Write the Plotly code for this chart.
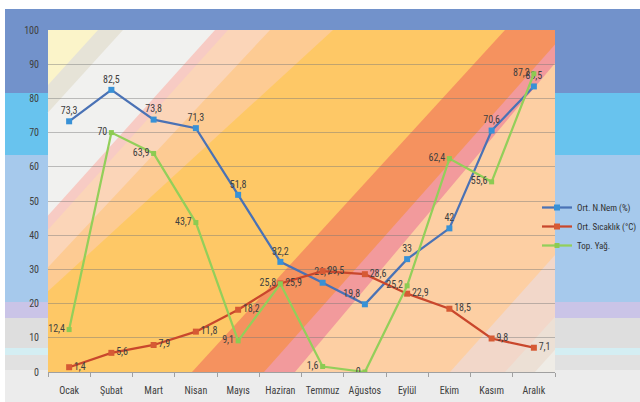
import plotly.graph_objects as go

# ---------------- data ----------------
months = ["Ocak", "Şubat", "Mart", "Nisan", "Mayıs", "Haziran", "Temmuz",
          "Ağustos", "Eylül", "Ekim", "Kasım", "Aralık"]
nem = [73.3, 82.5, 73.8, 71.3, 51.8, 32.2, 26.1, 19.8, 33, 42, 70.6, 83.5]
sicaklik = [1.4, 5.6, 7.9, 11.8, 18.2, 25.9, 29.5, 28.6, 22.9, 18.5, 9.8, 7.1]
yag = [12.4, 70, 63.9, 43.7, 9.1, 25.8, 1.6, 0, 25.2, 62.4, 55.6, 87.2]
series_names = ["Ort. N.Nem (%)", "Ort. Sıcaklık (°C)", "Top. Yağ."]
y_ticks = [0, 10, 20, 30, 40, 50, 60, 70, 80, 90, 100]

# ---------------- geometry (pixels) ----------------
W, H = 640, 402
PL, PR, PT, PB = 48, 555, 30, 372
FONT = "Liberation Sans Narrow, Roboto Condensed, Arial Narrow, Liberation Sans, sans-serif"


def px(x):
    return (x - PL) / (PR - PL)


def py(y):
    return (PB - y) / (PB - PT)


def fmt(v):
    return f"{v:g}".replace(".", ",")


def clip_right(poly, xt, xb):
    """Keep part of polygon right of line through (xt,PT)-(xb,PB)."""
    def f(p):
        x, y = p
        return x - (xt + (xb - xt) * (y - PT) / (PB - PT))
    out = []
    n = len(poly)
    for i in range(n):
        a, b = poly[i], poly[(i + 1) % n]
        fa, fb = f(a), f(b)
        if fa >= 0:
            out.append(a)
        if (fa >= 0) != (fb >= 0):
            t = fa / (fa - fb)
            out.append((a[0] + t * (b[0] - a[0]), a[1] + t * (b[1] - a[1])))
    return out


def path_of(poly):
    pts = [f"{px(x):.5f},{py(y):.5f}" for x, y in poly]
    return "M" + " L".join(pts) + " Z"


shapes = []

# outer horizontal bands
bands = [
    (9, 93, "#7292cb"),
    (93, 155, "#68c3ee"),
    (155, 302, "#a6c9ec"),
    (302, 318, "#cac4e7"),
    (318, 348, "#dedede"),
    (348, 355, "#d4eef3"),
    (355, 370, "#e1e1e1"),
    (370, 402, "#ececec"),
]
for y0, y1, c in bands:
    shapes.append(dict(type="rect", xref="paper", yref="paper", layer="below",
                       x0=px(5), x1=px(W), y0=py(y1), y1=py(y0),
                       fillcolor=c, line=dict(width=0)))

# diagonal stripes in plot area
rect = [(PL, PT), (PR, PT), (PR, PB), (PL, PB)]
stripes = [
    (None, None, "#fbf4c9"),
    (98, -213, "#e6e3d7"),
    (123, -188, "#f1f1ef"),
    (215, -93, "#f7cbc4"),
    (228, -80, "#fbd5b8"),
    (270, -50, "#fdcb93"),
    (333, -40, "#fec866"),
    (505, 192, "#f5925f"),
    (568, 264, "#f29a9c"),
    (583, 295, "#fdcfa3"),
    (757, 450, "#f2d7c9"),
    (814, 505, "#ece0d5"),
    (843, 535, "#efece6"),
]
for xt, xb, c in stripes:
    poly = rect if xt is None else clip_right(rect, xt, xb)
    if len(poly) >= 3:
        shapes.append(dict(type="path", xref="paper", yref="paper", layer="below",
                           path=path_of(poly), fillcolor=c, line=dict(width=0)))

# ---------------- traces ----------------
blue_pos = ["top center"] * 12
blue_pos[7] = "top left"
LBL = dict(size=10, color="#404040", family=FONT)
fig = go.Figure()
fig.add_trace(go.Scatter(
    x=months, y=nem, name=series_names[0], mode="lines+markers+text",
    line=dict(color="#4a72b5", width=2.25),
    marker=dict(symbol="square", size=6, color="#3891d6"),
    text=[fmt(v) for v in nem], textposition=blue_pos, textfont=LBL))
fig.add_trace(go.Scatter(
    x=months, y=sicaklik, name=series_names[1], mode="lines+markers+text",
    line=dict(color="#c9472c", width=2.25),
    marker=dict(symbol="square", size=6, color="#d65a34"),
    text=[fmt(v) for v in sicaklik], textposition="middle right", textfont=LBL))
fig.add_trace(go.Scatter(
    x=months, y=yag, name=series_names[2], mode="lines+markers+text",
    line=dict(color="#93cf5a", width=2.25),
    marker=dict(symbol="square", size=5, color="#8ccb52"),
    text=[fmt(v) for v in yag], textposition="middle left", textfont=LBL))

fig.update_layout(
    width=W, height=H,
    margin=dict(l=PL, r=W - PR, t=PT, b=H - PB, pad=0, autoexpand=False),
    paper_bgcolor="white", plot_bgcolor="rgba(0,0,0,0)",
    font=dict(family=FONT, size=10, color="#404040"),
    shapes=shapes,
    showlegend=True,
    legend=dict(x=px(537), y=py(193), xanchor="left", yanchor="top",
                bgcolor="rgba(0,0,0,0)", font=dict(size=9, color="#303030", family=FONT),
                tracegroupgap=0, itemwidth=30),
    xaxis=dict(type="category", range=[-0.5, 11.5], showgrid=False, automargin=False,
               ticks="outside", tickson="boundaries", ticklen=4, tickcolor="#a0a0a0",
               showline=True, linecolor="#a0a0a0", linewidth=1, tickangle=0,
               ticklabelstandoff=9, tickfont=dict(size=10, color="#404040")),
    yaxis=dict(range=[0, 100], tickvals=y_ticks, showgrid=True, automargin=False,
               gridcolor="rgba(120,120,120,0.45)", gridwidth=1, zeroline=False,
               showline=False, ticklabelstandoff=8,
               tickfont=dict(size=10, color="#404040")),
)

fig.write_html("out.html")
